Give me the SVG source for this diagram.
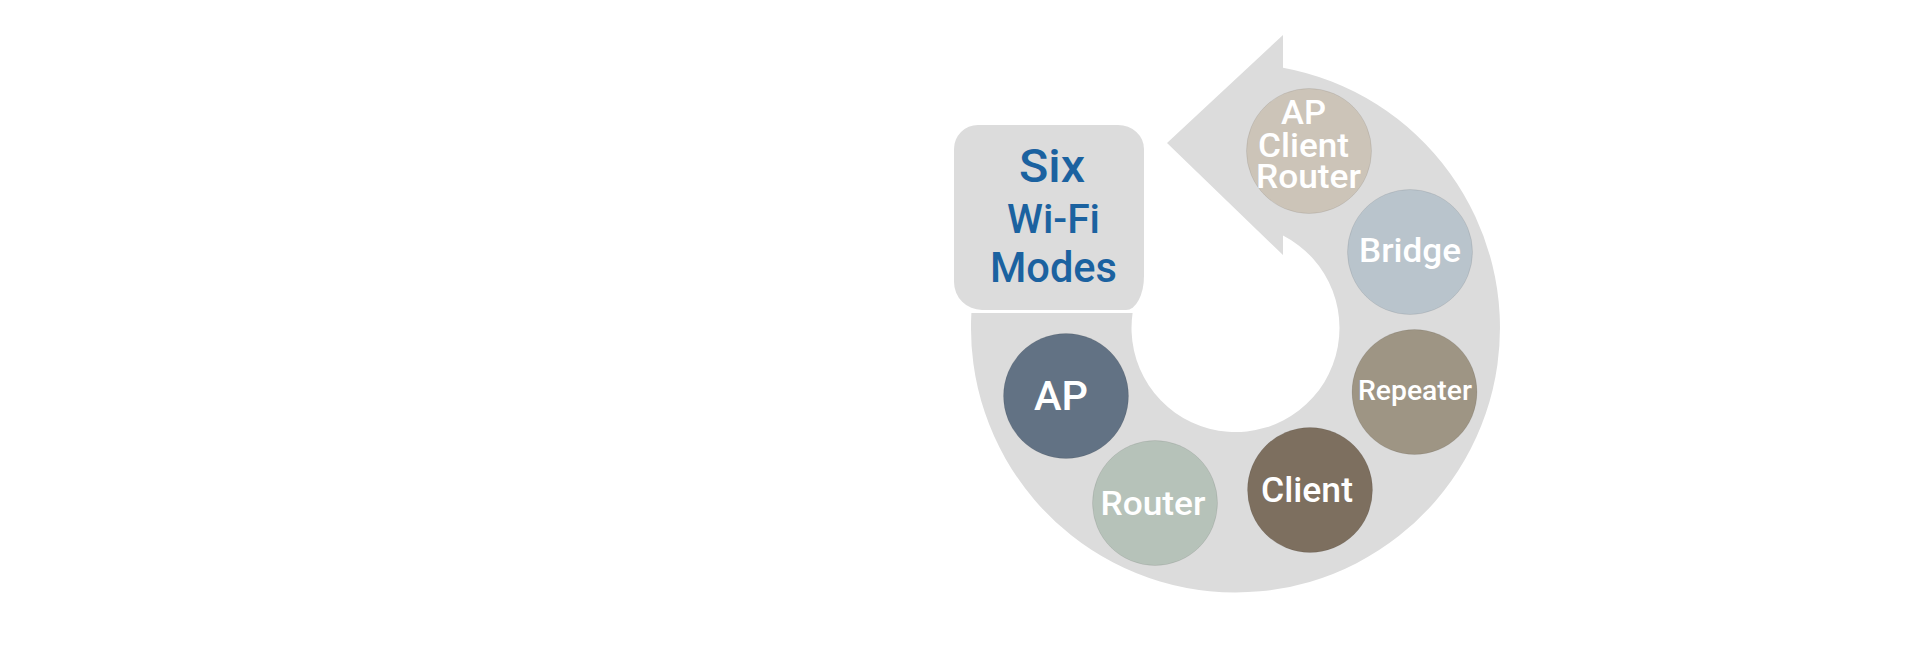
<svg xmlns="http://www.w3.org/2000/svg" width="1920" height="655" viewBox="0 0 1920 655">
  <style>
    .node circle { stroke: rgba(0,0,0,0.08); stroke-width: 1; }
    .lbl { font-family: Roboto, "Liberation Sans", sans-serif; font-weight: 500; fill: #FFFFFF; text-anchor: middle; }
    .title { font-family: Roboto, "Liberation Sans", sans-serif; font-weight: 500; fill: #1B62A0; text-anchor: middle; }
  </style>
  <rect width="1920" height="655" fill="#FFFFFF"/>
  <g id="connectors">
    <path id="cycle-arrow" fill="#DCDCDC" d="M 971.4,313 A 264.5 264.5 0 1 0 1283,67.8 L 1283,35 L 1167,143 L 1283,255 L 1283,235.5 A 104 104 0 1 1 1132.6,313 Z"/>
  </g>
  <g id="title-box">
    <path fill="#DCDCDC" d="M 978,125 H 1118 A 26 24 0 0 1 1144,149 V 276 A 18 34 0 0 1 1126,310 H 982 A 28 28 0 0 1 954,282 V 149 A 24 24 0 0 1 978,125 Z"/>
    <text class="title" x="1052" y="182" font-size="47" font-weight="700" textLength="66" lengthAdjust="spacingAndGlyphs">Six</text>
    <text class="title" x="1053.5" y="233" font-size="40" textLength="93" lengthAdjust="spacingAndGlyphs">Wi-Fi</text>
    <text class="title" x="1053.5" y="282" font-size="42" textLength="127" lengthAdjust="spacingAndGlyphs">Modes</text>
  </g>
  <g id="node-ap-client-router" class="node">
    <circle cx="1309" cy="151" r="62.5" fill="#CCC4B8"/>
    <text class="lbl" x="1303.5" y="124" font-size="32.5" textLength="45" lengthAdjust="spacingAndGlyphs">AP</text>
    <text class="lbl" x="1303.5" y="157" font-size="32.5" textLength="91" lengthAdjust="spacingAndGlyphs">Client</text>
    <text class="lbl" x="1308.5" y="188" font-size="32.5" textLength="105" lengthAdjust="spacingAndGlyphs">Router</text>
  </g>
  <g id="node-bridge" class="node">
    <circle cx="1410" cy="252" r="62.5" fill="#B9C4CC"/>
    <text class="lbl" x="1410" y="262" font-size="34" textLength="102" lengthAdjust="spacingAndGlyphs">Bridge</text>
  </g>
  <g id="node-repeater" class="node">
    <circle cx="1414.5" cy="392" r="62.5" fill="#9E9584"/>
    <text class="lbl" x="1415" y="400" font-size="28" textLength="114" lengthAdjust="spacingAndGlyphs">Repeater</text>
  </g>
  <g id="node-client" class="node">
    <circle cx="1310" cy="490" r="62.5" fill="#7D6F5F"/>
    <text class="lbl" x="1307" y="502" font-size="35" textLength="92" lengthAdjust="spacingAndGlyphs">Client</text>
  </g>
  <g id="node-router" class="node">
    <circle cx="1155" cy="503" r="62.5" fill="#B6C2B9"/>
    <text class="lbl" x="1153" y="515" font-size="34" textLength="105" lengthAdjust="spacingAndGlyphs">Router</text>
  </g>
  <g id="node-ap" class="node">
    <circle cx="1066" cy="396" r="62.5" fill="#627284"/>
    <text class="lbl" x="1061" y="410" font-size="40" textLength="54" lengthAdjust="spacingAndGlyphs">AP</text>
  </g>
</svg>
